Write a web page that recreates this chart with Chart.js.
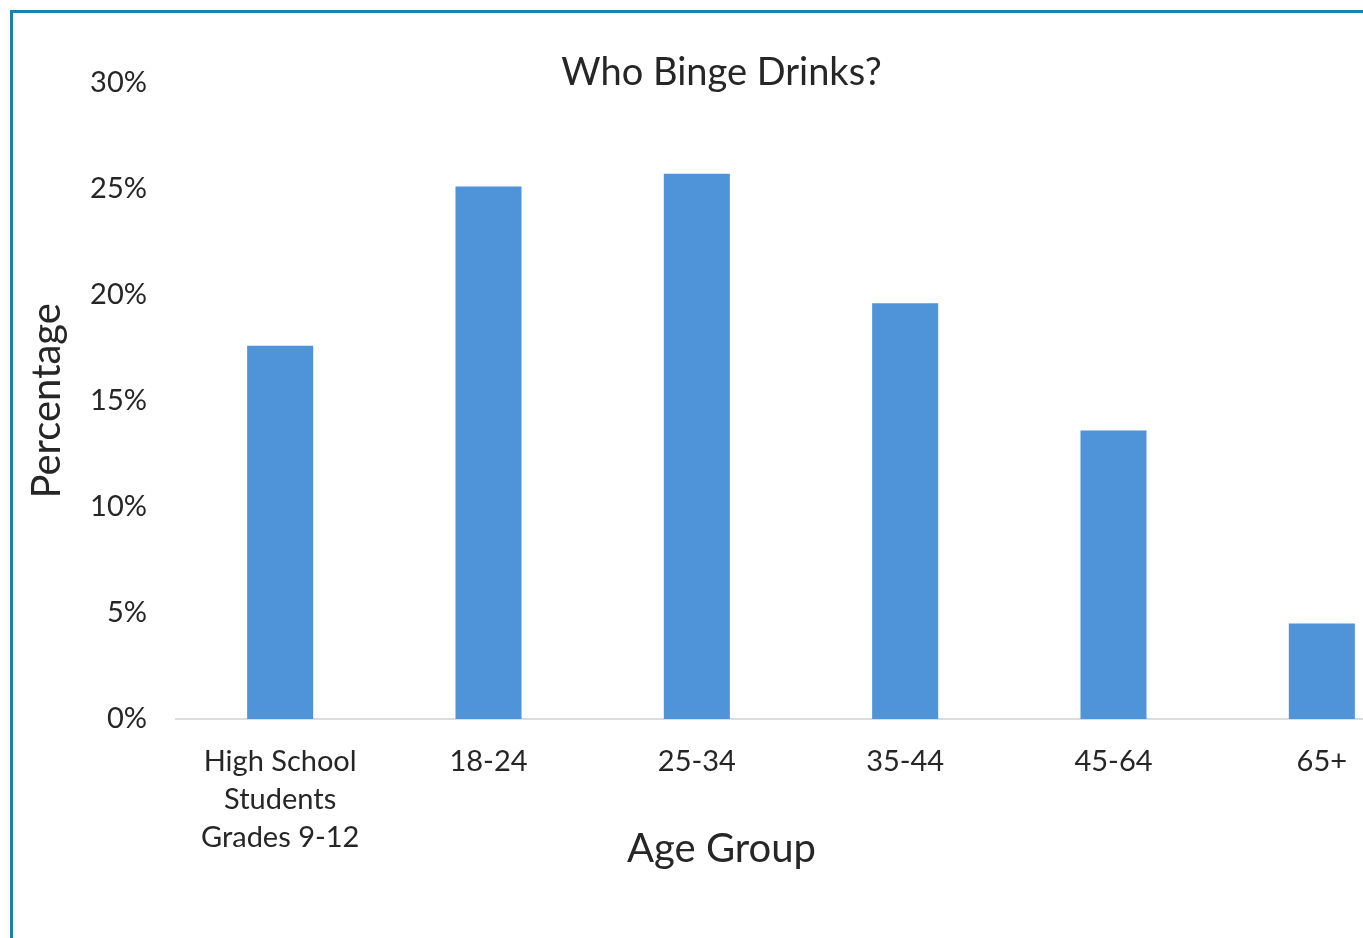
<!DOCTYPE html>
<html>
<head>
<meta charset="utf-8">
<title>Who Binge Drinks?</title>
<script src="https://cdn.jsdelivr.net/npm/chart.js@4/dist/chart.umd.min.js"></script>
<style>
  html, body { margin: 0; padding: 0; background: #fff; overflow: hidden; }
  #page { position: relative; width: 1363px; height: 938px; overflow: hidden; }
  #frame {
    position: absolute; left: 10px; top: 10px; width: 1440px; height: 1000px;
    border-left: 3px solid #1b80b4; border-top: 3px solid #1b80b4;
  }
  #chart { position: absolute; left: 0; top: 0; }
</style>
</head>
<body>
<div id="page">
  <div id="frame"></div>
  <canvas id="chart" width="1446" height="938"></canvas>
</div>
<script>
// Age groups and the share of each that binge drinks (%)
const ageGroups = [['High School', 'Students', 'Grades 9-12'], '18-24', '25-34', '35-44', '45-64', '65+'];
const bingeRates = [17.6, 25.1, 25.7, 19.6, 13.6, 4.5];
const yTicks = [0, 5, 10, 15, 20, 25, 30];

const fontFamily = 'Lato, "Open Sans", sans-serif';
const textColor = '#262626';
const padLeft = 17;

const ctx = document.getElementById('chart').getContext('2d');

const bingeChart = new Chart(ctx, {
  type: 'bar',
  data: {
    labels: ageGroups,
    datasets: [{
      label: 'Percentage',
      data: bingeRates,
      backgroundColor: '#4f93d8',
      borderWidth: 0,
      categoryPercentage: 1,
      barPercentage: 0.317
    }]
  },
  options: {
    responsive: false,
    devicePixelRatio: 1,
    animation: false,
    layout: { padding: { left: padLeft, right: 20, top: 0, bottom: 0 } },
    scales: {
      y: {
        min: 0,
        max: 30,
        afterBuildTicks: (scale) => {
          scale.ticks = yTicks.map(v => ({ value: v }));
        },
        afterFit: (scale) => {
          scale.width = 176 - padLeft; // plot area starts at x = 176
        },
        grid: { display: false, drawTicks: false },
        border: { display: false },
        ticks: {
          padding: 29,
          color: textColor,
          font: { family: fontFamily, size: 29 },
          callback: (value) => value + '%'
        },
        title: {
          display: true,
          text: 'Percentage',
          color: textColor,
          padding: { top: 6, bottom: 0 },
          font: { family: fontFamily, size: 40 }
        }
      },
      x: {
        grid: { display: false, drawTicks: false },
        border: { display: true, color: '#dcdcdc', width: 2 },
        ticks: {
          padding: 24,
          color: textColor,
          maxRotation: 0,
          autoSkip: false,
          font: { family: fontFamily, size: 29, lineHeight: 1.31 }
        }
      }
    },
    plugins: {
      legend: { display: false },
      tooltip: { enabled: false },
      title: {
        display: true,
        text: 'Who Binge Drinks?',
        color: textColor,
        font: { family: fontFamily, size: 38, weight: 'normal' },
        padding: { top: 50, bottom: -13 }
      },
      subtitle: {
        display: true,
        position: 'bottom',
        text: 'Age Group',
        color: textColor,
        font: { family: fontFamily, size: 40 },
        padding: { top: -56, bottom: 65 }
      }
    }
  }
});
</script>
</body>
</html>
